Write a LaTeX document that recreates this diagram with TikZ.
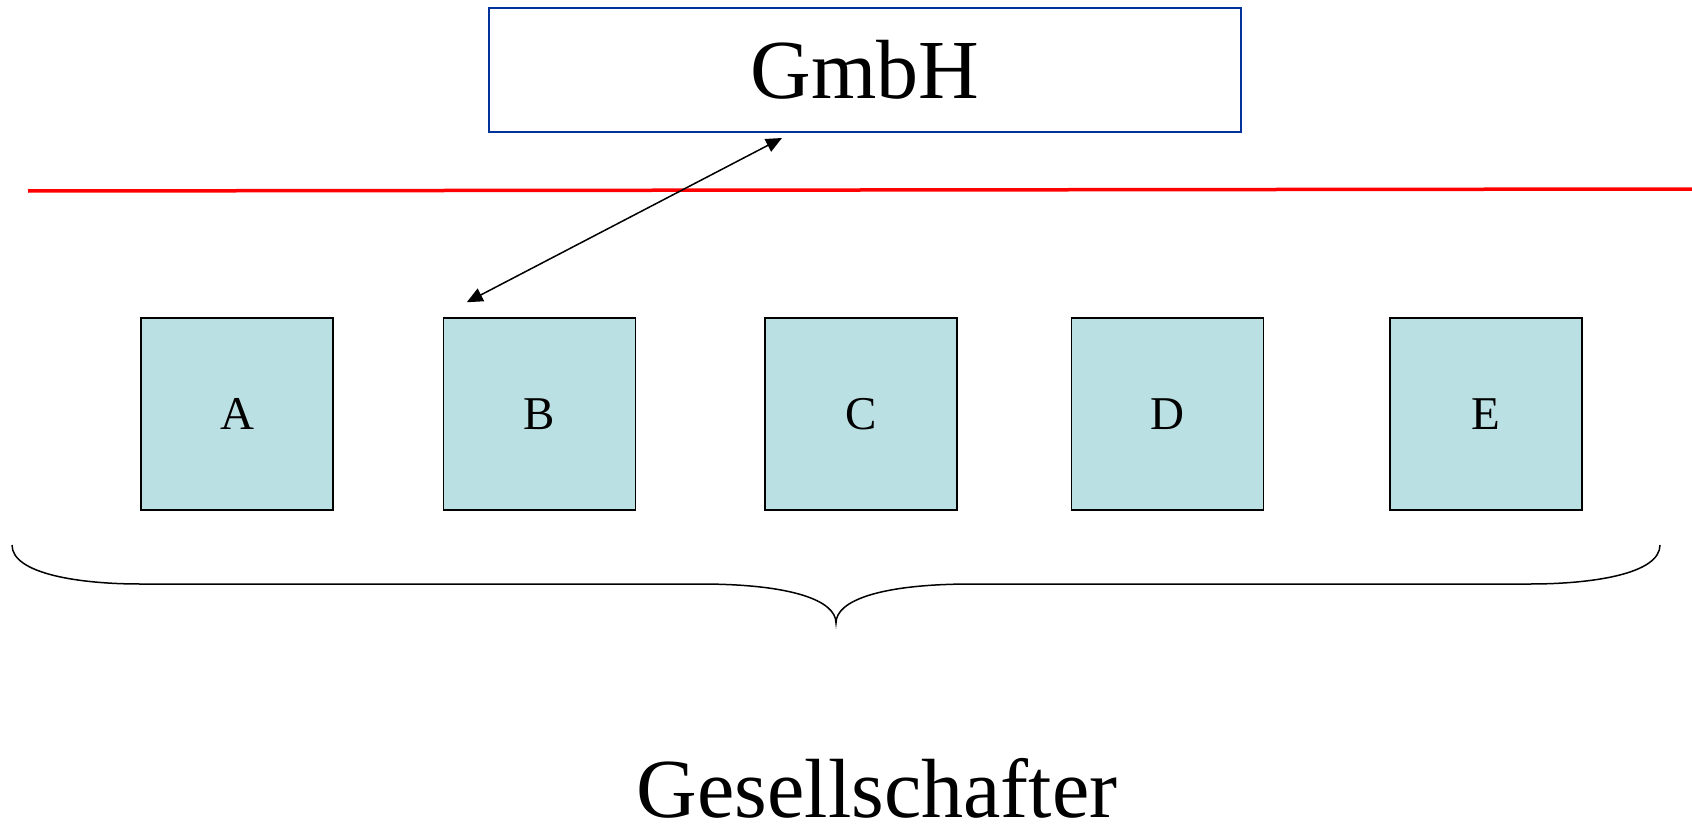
\documentclass[tikz,border=0pt]{standalone}
\usepackage{fontspec}
\setmainfont{Liberation Serif}
\usetikzlibrary{arrows.meta,calc}
\definecolor{boxfill}{RGB}{187,224,227}
\definecolor{gmbhblue}{RGB}{0,51,153}
\begin{document}
\begin{tikzpicture}[x=1pt,y=-1pt,
  member/.style={draw=black,line width=1.5pt,fill=boxfill,minimum width=192pt,minimum height=192pt,inner sep=0pt,font=\fontsize{47}{50}\selectfont},
  topbox/.style={draw=gmbhblue,line width=2pt,minimum width=752pt,minimum height=124pt,inner sep=0pt,font=\fontsize{84}{90}\selectfont},
  twoway/.style={line width=1.5pt,arrows={Triangle[length=16pt,width=14pt]-Triangle[length=16pt,width=14pt]}},
]
\useasboundingbox (0,0) rectangle (1692,824);
\node[topbox] (G) at (865,70) {GmbH};
\coordinate (RL) at (28,191);
\coordinate (RR) at (1692,189);
\draw[red,line width=3.5pt] (RL) -- (RR);
\node[member] (A) at (237,414) {A};
\node[member] (B) at (539.5,414) {B};
\node[member] (C) at (861,414) {C};
\node[member] (D) at (1167.5,414) {D};
\node[member] (E) at (1486,414) {E};
\draw[twoway] ($(B.north west)+(24,-15)$) -- ($(G.south west)+(294,5)$);
\draw[line width=1.5pt] (12,545) .. controls (12,574) and (80,584) .. (140,584) -- (700,584)
  .. controls (790,584) and (836,600) .. (836,623)
  .. controls (836,600) and (882,584) .. (972,584) -- (1530,584)
  .. controls (1592,584) and (1660,574) .. (1660,545);
\node[font=\fontsize{84}{90}\selectfont,anchor=base,inner sep=0pt] (S) at (877,817) {Gesellschafter};
\end{tikzpicture}
\end{document}
